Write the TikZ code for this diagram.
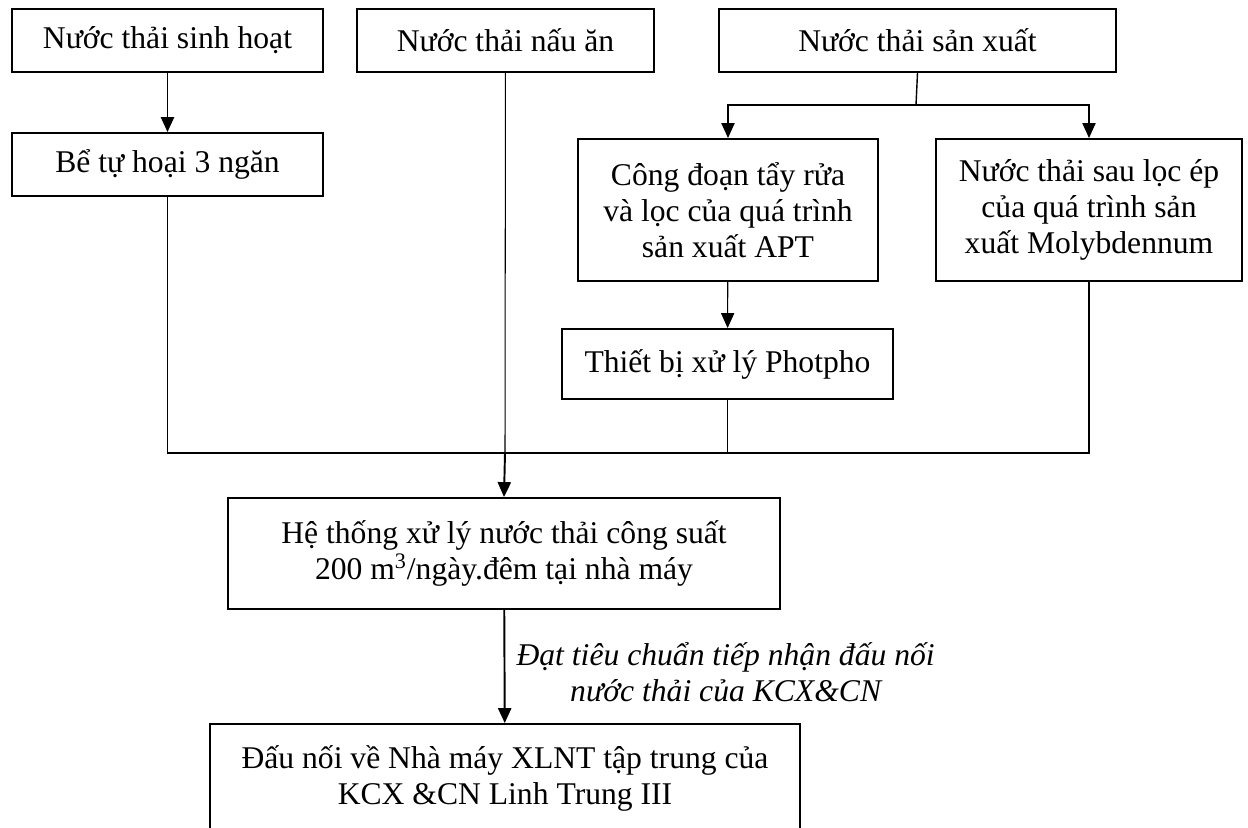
\documentclass[tikz,border=0pt]{standalone}
\usepackage{fontspec}
\setmainfont{Liberation Serif}
\usepackage{tikz}
\usetikzlibrary{
  arrows.meta,
  calc,
  positioning
}

\begin{document}
\begin{tikzpicture}[
  x=0.02cm, y=-0.02cm,
  box/.style={rectangle, draw, line width=1.1pt, inner sep=0pt, align=center, font=\fontsize{18}{20.5}\selectfont},
  thinline/.style={line width=0.6pt},
  flow/.style={line width=0.8pt},
  thickline/.style={line width=1.1pt},
  arrow/.style={-{Triangle[length=8.5pt, width=7.5pt]}},
]
\useasboundingbox (0,0) rectangle (1248,828);

% Sources
\node[box, minimum width=6.22cm, minimum height=1.26cm] (sinhhoat) at (167.5,40.5) {Nước thải sinh hoạt};
\node[box, minimum width=5.94cm, minimum height=1.26cm] (nauan) at (505.5,40.5) {Nước thải nấu ăn};
\node[box, minimum width=7.94cm, minimum height=1.26cm] (sanxuat) at (917.5,40.5) {Nước thải sản xuất};

% Pre-treatment
\node[box, minimum width=6.22cm, minimum height=1.26cm] (tuhoai) at (167.5,164.5) {Bể tự hoại 3 ngăn};
\node[box, minimum width=6.0cm, minimum height=2.84cm] (apt) at (728,210) {Công đoạn tẩy rửa\\và lọc của quá trình\\sản xuất APT};
\node[box, minimum width=6.12cm, minimum height=2.84cm] (moly) at (1089,210) {Nước thải sau lọc ép\\của quá trình sản\\xuất Molybdennum};
\node[box, minimum width=6.62cm, minimum height=1.4cm] (photpho) at (727.5,364) {Thiết bị xử lý Photpho};

% Treatment and discharge
\node[box, minimum width=11.04cm, minimum height=2.22cm] (xuly) at (504,553.5) {Hệ thống xử lý nước thải công suất\\200 m\textsuperscript{3}/ngày.đêm tại nhà máy};
\node[box, minimum width=11.8cm, minimum height=2.16cm] (xlnt) at (505,778) {Đấu nối về Nhà máy XLNT tập trung của\\KCX \&CN Linh Trung III};

\coordinate (branch) at (916,105);
\coordinate (join) at (505,453);

% Upper arrows
\draw[thickline, arrow] (sinhhoat) -- (tuhoai);
\draw[flow] (sanxuat.south) -- (branch);
\draw[flow, arrow] (branch) -| (apt.north);
\draw[flow, arrow] (branch) -| (moly.north);
\draw[thinline, arrow] (apt) -- (photpho);

% Collector
\draw[thinline] (nauan) -- (join);
\draw[thinline] (moly.south) |- (join);
\draw[thinline] (photpho.south) -- (photpho.south |- join);
\draw[thickline] (tuhoai.south) |- (photpho.south |- join);
\draw[thickline, arrow] (join) -- (xuly.north);

% Discharge
\draw[thickline, arrow] (xuly) -- (xlnt) node[midway, anchor=west, xshift=3pt, yshift=-3pt, align=center, font=\fontsize{18}{20.5}\selectfont\itshape] {Đạt tiêu chuẩn tiếp nhận đấu nối\\nước thải của KCX\&CN};
\end{tikzpicture}
\end{document}
